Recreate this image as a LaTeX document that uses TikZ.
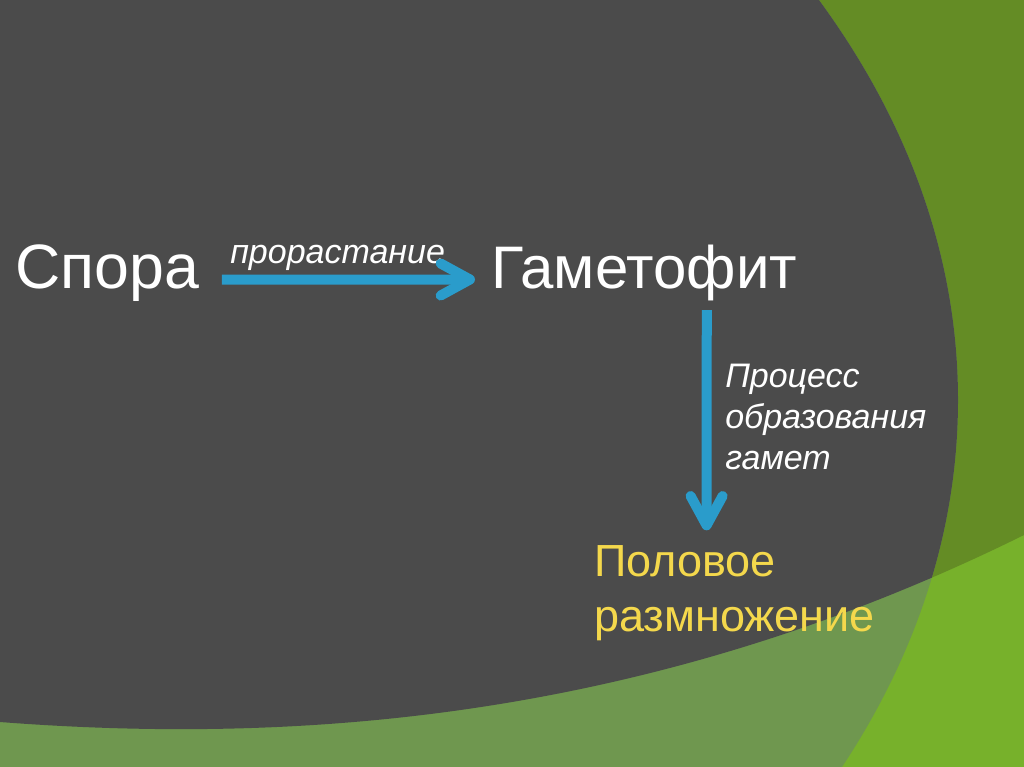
\documentclass[tikz,border=0pt]{standalone}
\usepackage{fontspec}
\setmainfont{Liberation Sans}
\usetikzlibrary{arrows.meta}
\definecolor{slideGray}{HTML}{4B4B4B}
\definecolor{slideOlive}{HTML}{648C25}
\definecolor{slideLime}{HTML}{77B12B}
\definecolor{slideSage}{HTML}{6F974F}
\definecolor{slideBlue}{HTML}{2A9CCB}
\definecolor{slideYellow}{HTML}{F4D84C}

\begin{document}
\begin{tikzpicture}[x=0.75pt,y=-0.75pt,%%
  termStyle/.style={inner sep=0pt,text=white,font=\fontsize{45}{54}\selectfont},%%
  labelStyle/.style={inner sep=0pt,text=white,align=left,font=\fontsize{25.5}{30.75}\selectfont\itshape},%%
  resultStyle/.style={inner sep=0pt,text=slideYellow,align=left,font=\fontsize{33.75}{41.25}\selectfont},%%
  arrowStyle/.style={draw=slideBlue,line width=7.5pt,-{Straight Barb[round,length=22pt,width=24pt]}}
]
%%
%%
\pgfmathsetmacro{\slideW}{1024}
\pgfmathsetmacro{\slideH}{767}
\useasboundingbox (0,0) rectangle (\slideW,\slideH);
%%
%% The background of the slide.
%%
\fill[slideLime] (0,0) rectangle (\slideW,\slideH);
\fill[slideOlive] (0,0) -- (\slideW,0) -- (\slideW,535)
  .. controls (650,720) and (300,745) .. (0,722) -- cycle;
\begin{scope}
  \clip (-542,400) ellipse[x radius=1500,y radius=950];
  \fill[slideSage] (0,0) rectangle (\slideW,\slideH);
  \fill[slideGray] (0,0) -- (\slideW,0) -- (\slideW,535)
    .. controls (650,720) and (300,745) .. (0,722) -- cycle;
\end{scope}
%%
%% The terms.
%%
\node[termStyle,font=\fontsize{47}{56}\selectfont,anchor=base west] (spora) at (15,288) {Спора};
\node[termStyle,anchor=base west] (gametofit) at (491,288) {Гаметофит};
\node[resultStyle,anchor=north west] (polovoe) at (594,545) {Половое\\размножение};
%% The labels of the arrows.
\node[labelStyle,anchor=base west] (prorastanie) at (230,263) {прорастание};
\node[labelStyle,anchor=north west] (process) at (725,364) {Процесс\\образования\\гамет};
%%
%% The arrows.
%%
\draw[arrowStyle] ([xshift=17pt,yshift=-5.25pt]spora.east)
  -- ([xshift=-12pt,yshift=-5.25pt]gametofit.west);
\draw[arrowStyle] ([xshift=47pt,yshift=-7pt]gametofit.south)
  -- ([xshift=-21pt,yshift=11pt]polovoe.north);
\end{tikzpicture}
\end{document}
